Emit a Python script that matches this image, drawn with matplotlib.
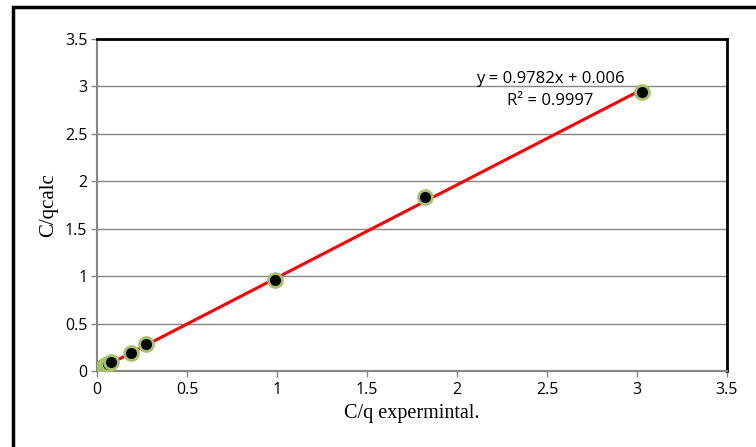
import numpy as np
import matplotlib
matplotlib.use("Agg")
from matplotlib import pyplot as plt
from matplotlib.patches import Rectangle

# values
cq_exp = [0.04, 0.05, 0.06, 0.08, 0.19, 0.27, 0.99, 1.82, 3.03]
cq_calc = [0.05, 0.06, 0.07, 0.09, 0.19, 0.28, 0.96, 1.83, 2.945]
slope, intercept = 0.9782, 0.006
r2 = 0.9997
x_ticks = [0, 0.5, 1, 1.5, 2, 2.5, 3, 3.5]
y_ticks = [0, 0.5, 1, 1.5, 2, 2.5, 3, 3.5]

tick_font = "Open Sans"
label_font = "Liberation Serif"
grey = "#868686"

fig = plt.figure(figsize=(7.56, 4.47), dpi=100)
ax = fig.add_axes([97 / 756, 1 - 371 / 447, 630 / 756, 332 / 447])

# outer chart frame (right and bottom edges fall outside the picture)
fig.patches.append(Rectangle((13 / 756, -0.05), 1.1, 1 - 7 / 447 + 0.05,
                             transform=fig.transFigure, fill=False,
                             edgecolor="black", linewidth=2.5, zorder=0))

ax.set_xlim(0, 3.5)
ax.set_ylim(0, 3.5)
ax.set_xticks(x_ticks)
ax.set_yticks(y_ticks)
ax.set_xticklabels([f"{t:g}" for t in x_ticks], fontfamily=tick_font, fontsize=11.5)
ax.set_yticklabels([f"{t:g}" for t in y_ticks], fontfamily=tick_font, fontsize=11.5)
ax.tick_params(direction="out", length=4, width=1, color=grey, pad=3)
ax.tick_params(axis="x", pad=4)

ax.yaxis.grid(True, color=grey, linewidth=1)
ax.set_axisbelow(True)

for side in ("left", "bottom"):
    ax.spines[side].set_color(grey)
    ax.spines[side].set_linewidth(1.5)
for side in ("top", "right"):
    ax.spines[side].set_color("black")
    ax.spines[side].set_linewidth(2)

# trend line over the data range
xs = np.array([min(cq_exp), max(cq_exp)])
ax.plot(xs, slope * xs + intercept, color="red", linewidth=2.2, zorder=3)

ax.plot(cq_exp, cq_calc, linestyle="none", marker="o", markersize=10,
        markerfacecolor="black", markeredgecolor="#A4C467",
        markeredgewidth=2, zorder=4)

ax.text(2.52, 3.08, f"y = {slope}x + {intercept}", ha="center", va="center",
        fontfamily=tick_font, fontsize=12)
ax.text(2.52, 2.85, f"R² = {r2}", ha="center", va="center",
        fontfamily=tick_font, fontsize=12)

ax.set_xlabel("C/q expermintal.", fontfamily=label_font, fontsize=14.5, labelpad=4)
ax.set_ylabel("C/qcalc", fontfamily=label_font, fontsize=15, labelpad=5)

fig.savefig("out.png", dpi=100)
